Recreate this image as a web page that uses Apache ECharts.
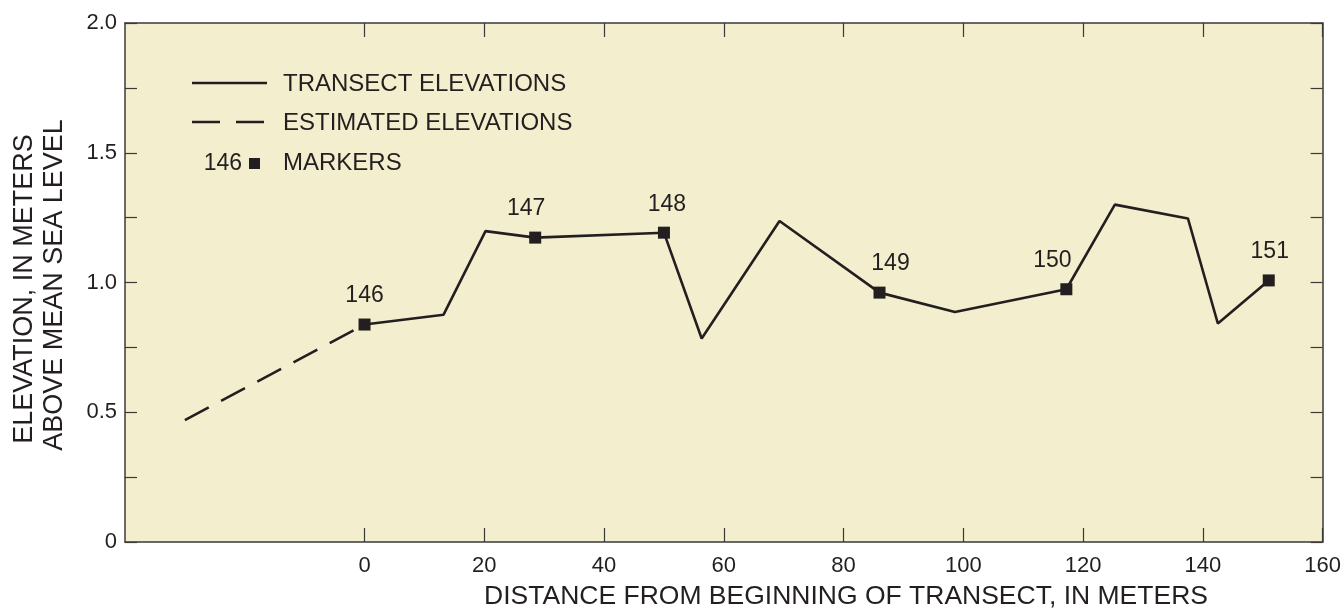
<!DOCTYPE html>
<html>
<head>
<meta charset="utf-8">
<script src="https://cdn.jsdelivr.net/npm/echarts@6/dist/echarts.min.js"></script>
<style>
  html, body { margin: 0; padding: 0; background: #fff; }
  #chart { width: 1344px; height: 610px; }
</style>
</head>
<body>
<div id="chart"></div>
<script>
// estimated part of the profile (dashed)
var estX = [-30, 0];
var estY = [0.47, 0.838];

// surveyed transect elevations (solid)
var transectX = [0, 13.2, 20.2, 28.5, 50, 56.3, 69.3, 86, 98.6, 117.2, 125.3, 137.5, 142.5, 151];
var transectY = [0.838, 0.876, 1.198, 1.173, 1.192, 0.784, 1.237, 0.961, 0.886, 0.974, 1.30, 1.247, 0.842, 1.008];

// markers
var markerIds = ['146', '147', '148', '149', '150', '151'];
var markerX = [0, 28.5, 50, 86, 117.2, 151];
var markerY = [0.838, 1.173, 1.192, 0.961, 0.974, 1.008];

// axis ticks
var xTicks = [0, 20, 40, 60, 80, 100, 120, 140, 160];

// label nudges (style only)
var labelDx = [0, -9, 3, 11, -14, 1];

var FONT = 'Liberation Sans, Arial, sans-serif';
var INK = '#231f20';
var AXIS = '#3a3a3a';

function zip(xs, ys) {
  return xs.map(function (x, i) { return [x, ys[i]]; });
}

var chart = echarts.init(document.getElementById('chart'));

var option = {
  animation: false,
  grid: {
    left: 125, right: 21, top: 23, bottom: 68,
    show: true,
    backgroundColor: '#f3eecd',
    borderWidth: 0
  },
  xAxis: [
    {
      type: 'value', min: -40, max: 160, position: 'bottom',
      axisLine: { show: true, onZero: false, lineStyle: { color: AXIS, width: 1.5 } },
      axisTick: { show: true, inside: true, length: 14, customValues: xTicks, lineStyle: { color: AXIS, width: 1.2 } },
      axisLabel: { customValues: xTicks, margin: 13, color: INK, fontSize: 22, fontFamily: FONT },
      splitLine: { show: false }
    },
    {
      type: 'value', min: -40, max: 160, position: 'top',
      axisLine: { show: true, onZero: false, lineStyle: { color: AXIS, width: 1.5 } },
      axisTick: { show: true, inside: true, length: 14, customValues: xTicks, lineStyle: { color: AXIS, width: 1.2 } },
      axisLabel: { show: false },
      splitLine: { show: false }
    }
  ],
  yAxis: [
    {
      type: 'value', min: 0, max: 2, interval: 0.25, position: 'left',
      axisLine: { show: true, onZero: false, lineStyle: { color: AXIS, width: 1.5 } },
      axisTick: { show: true, inside: true, length: 12, lineStyle: { color: AXIS, width: 1.2 } },
      axisLabel: {
        margin: 8, color: INK, fontSize: 22, fontFamily: FONT,
        formatter: function (v) {
          if (Math.abs(v * 2 - Math.round(v * 2)) > 1e-6) return '';
          return v === 0 ? '0' : v.toFixed(1);
        }
      },
      splitLine: { show: false }
    },
    {
      type: 'value', min: 0, max: 2, interval: 0.25, position: 'right',
      axisLine: { show: true, onZero: false, lineStyle: { color: AXIS, width: 1.5 } },
      axisTick: { show: true, inside: true, length: 12, lineStyle: { color: AXIS, width: 1.2 } },
      axisLabel: { show: false },
      splitLine: { show: false }
    }
  ],
  series: [
    {
      name: 'ESTIMATED ELEVATIONS', type: 'line', data: zip(estX, estY),
      showSymbol: false, silent: true,
      lineStyle: { color: INK, width: 2.6, type: [27, 14] }
    },
    {
      name: 'TRANSECT ELEVATIONS', type: 'line', data: zip(transectX, transectY),
      showSymbol: false, silent: true,
      lineStyle: { color: INK, width: 2.6 }
    },
    {
      name: 'MARKERS', type: 'scatter', symbol: 'rect', symbolSize: 12,
      itemStyle: { color: INK, opacity: 1 },
      data: markerX.map(function (x, i) {
        return {
          value: [x, markerY[i]],
          label: {
            show: true, position: 'top', distance: 11,
            offset: [labelDx[i], 0],
            formatter: markerIds[i],
            color: INK, fontSize: 23, fontFamily: FONT
          }
        };
      }),
      z: 5
    }
  ],
  graphic: [
    // legend
    { type: 'line', shape: { x1: 192, y1: 83, x2: 267, y2: 83 }, style: { stroke: INK, lineWidth: 2.6 } },
    { type: 'text', x: 283, y: 84, style: { text: 'TRANSECT ELEVATIONS', fill: INK, font: '24px ' + FONT, verticalAlign: 'middle' } },
    { type: 'line', shape: { x1: 192, y1: 122, x2: 264, y2: 122 }, style: { stroke: INK, lineWidth: 2.6, lineDash: [28, 16] } },
    { type: 'text', x: 283, y: 123, style: { text: 'ESTIMATED ELEVATIONS', fill: INK, font: '24px ' + FONT, verticalAlign: 'middle' } },
    { type: 'text', x: 242, y: 164, style: { text: '146', fill: INK, font: '23px ' + FONT, align: 'right', verticalAlign: 'middle' } },
    { type: 'rect', shape: { x: 249, y: 158, width: 11, height: 11 }, style: { fill: INK } },
    { type: 'text', x: 283, y: 163, style: { text: 'MARKERS', fill: INK, font: '24px ' + FONT, verticalAlign: 'middle' } },
    // axis titles
    {
      type: 'text', x: 846, y: 597,
      style: { text: 'DISTANCE FROM BEGINNING OF TRANSECT, IN METERS', fill: INK, font: '26.5px ' + FONT, align: 'center', verticalAlign: 'middle' }
    },
    {
      type: 'text', x: 25, y: 289, rotation: Math.PI / 2,
      style: { text: 'ELEVATION, IN METERS', fill: INK, font: '27px ' + FONT, align: 'center', verticalAlign: 'middle' }
    },
    {
      type: 'text', x: 55, y: 285, rotation: Math.PI / 2,
      style: { text: 'ABOVE MEAN SEA LEVEL', fill: INK, font: '27px ' + FONT, align: 'center', verticalAlign: 'middle' }
    }
  ]
};

chart.setOption(option);
</script>
</body>
</html>
